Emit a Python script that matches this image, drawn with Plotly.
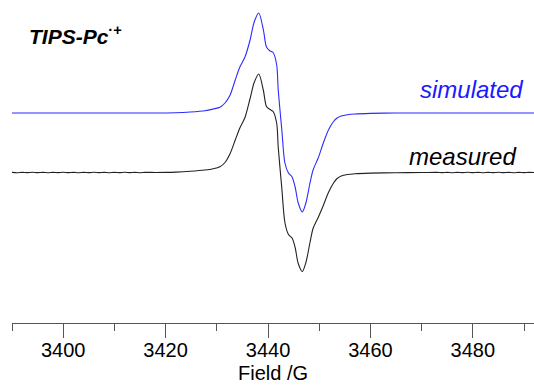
import plotly.graph_objects as go

# EPR first-derivative spectra of the TIPS-Pc radical cation
sim_field = [3390, 3400, 3410, 3417, 3422, 3424.8, 3427.7, 3429.3, 3430.6, 3431.6,
             3432.6, 3433.6, 3434.5, 3435.5, 3436.5, 3437.3, 3438.2, 3439.1, 3439.7,
             3440.4, 3441.0, 3441.7, 3442.0, 3442.7, 3443.3, 3444.0, 3444.7, 3445.3,
             3445.9, 3446.7, 3447.4, 3448.2, 3448.8, 3449.8, 3450.8, 3451.8, 3452.8,
             3453.5, 3454.3, 3455.5, 3457.0, 3460.0, 3465, 3470, 3480, 3492]
sim_signal = [0, 0, 0, 0, 0.003, 0.01, 0.023, 0.04, 0.057, 0.10,
              0.18, 0.33, 0.46, 0.56, 0.73, 0.91, 1.0, 0.83, 0.66,
              0.62, 0.605, 0.48, 0.23, -0.17, -0.50, -0.60, -0.64, -0.74,
              -0.90, -0.99, -0.90, -0.70, -0.57, -0.45, -0.30, -0.17, -0.085,
              -0.05, -0.03, -0.018, -0.01, -0.004, 0, 0, 0, 0]

meas_field = [3390, 3391, 3392, 3393, 3394, 3395, 3396, 3397, 3398, 3399,
              3400, 3401, 3402, 3403, 3404, 3405, 3406, 3407, 3408, 3409,
              3410, 3411, 3412, 3413, 3414, 3415, 3416, 3418, 3420, 3422,
              3424.8, 3427.7, 3429.3, 3430.6, 3431.6, 3432.6, 3433.6,
              3434.5, 3435.5, 3436.5, 3437.3, 3438.2, 3439.1, 3439.7, 3440.4,
              3441.0, 3441.7, 3442.0, 3442.7, 3443.3, 3444.0, 3444.7, 3445.3,
              3445.9, 3446.7, 3447.4, 3448.2, 3448.8, 3449.8, 3450.8, 3451.8,
              3452.8, 3453.5, 3454.3, 3455.5, 3457.0, 3460.0, 3465.0, 3470.0,
              3473.0, 3474.0, 3475.0, 3476.0, 3477.0, 3478.0, 3479.0, 3480.0,
              3481.0, 3482.0, 3483.0, 3484.0, 3485.0, 3486.0, 3487.0, 3488.0,
              3489.0, 3490.0, 3491.0, 3492.0]
meas_signal = [0.001, -0.002, 0.0015, -0.001, 0.002, -0.0015, 0.001, -0.002, 0.0015, -0.001,
               0.002, -0.0015, 0.0015, -0.002, 0.001, -0.0015, 0.002, -0.001, 0.0015, -0.002,
               0.001, -0.0015, 0.002, -0.001, 0.0015, -0.002, 0.001, 0.0005, 0.001, 0.004,
               0.012, 0.025, 0.038, 0.058, 0.10, 0.19, 0.325,
               0.445, 0.55, 0.74, 0.90, 0.985, 0.82, 0.66, 0.63,
               0.61, 0.49, 0.25, -0.16, -0.50, -0.62, -0.655, -0.75,
               -0.91, -0.99, -0.90, -0.70, -0.56, -0.45, -0.33, -0.20,
               -0.105, -0.06, -0.035, -0.02, -0.012, -0.006, -0.002, 0,
               0.0015, -0.0015, 0.001, -0.002, 0.0015, -0.001, 0.002, -0.0015,
               0.001, -0.002, 0.0015, -0.001, 0.002, -0.0015, 0.001, -0.002,
               0.0015, -0.001, 0.0015, 0.0]

sim_offset = 0.595  # vertical stacking of the simulated trace

field_ticks = [3400, 3420, 3440, 3460, 3480]
field_minor_ticks = [3390, 3410, 3430, 3450, 3470, 3490]

font_family = "Arial, Liberation Sans, sans-serif"

fig = go.Figure()
fig.add_trace(go.Scatter(
    x=sim_field, y=[v + sim_offset for v in sim_signal],
    mode="lines", line=dict(color="#2b2bff", width=1.1, shape="spline", smoothing=0.8),
    name="simulated", showlegend=False, hoverinfo="skip"))
fig.add_trace(go.Scatter(
    x=meas_field, y=meas_signal,
    mode="lines", line=dict(color="#222222", width=1.1, shape="spline", smoothing=0.8),
    name="measured", showlegend=False, hoverinfo="skip"))

fig.update_layout(
    width=534, height=385,
    margin=dict(l=12, r=0, t=0, b=62),
    paper_bgcolor="white", plot_bgcolor="white",
    font=dict(family=font_family, color="black"),
    xaxis=dict(
        range=[3390, 3491.95],
        tickvals=field_ticks,
        ticks="outside", ticklen=14, tickwidth=1, tickcolor="#555555",
        ticklabelstandoff=-5,
        showline=True, linecolor="#555555", linewidth=1,
        showgrid=False, zeroline=False,
        tickfont=dict(size=20, family=font_family, color="black"),
        minor=dict(tickvals=field_minor_ticks,
                   ticks="outside", ticklen=7, tickwidth=1, tickcolor="#555555",
                   showgrid=False),
    ),
    yaxis=dict(range=[-1.505, 1.725], visible=False, showgrid=False, zeroline=False),
    annotations=[
        dict(text="Field /G", xref="paper", yref="paper",
             x=0.5, y=-0.192, xanchor="center", yanchor="bottom", showarrow=False,
             borderpad=0,
             font=dict(size=20, family=font_family, color="black")),
        dict(text="<b><i>TIPS-Pc</i></b><sup><b>·+</b></sup>", xref="paper", yref="paper",
             x=0.028, y=0.893, xanchor="left", yanchor="middle", showarrow=False,
             font=dict(size=21, family=font_family, color="black")),
        dict(text="<i>simulated</i>", xref="paper", yref="paper",
             x=0.983, y=0.722, xanchor="right", yanchor="middle", showarrow=False,
             font=dict(size=24, family=font_family, color="#1a1aff")),
        dict(text="<i>measured</i>", xref="paper", yref="paper",
             x=0.970, y=0.515, xanchor="right", yanchor="middle", showarrow=False,
             font=dict(size=24, family=font_family, color="black")),
    ],
)

fig.write_html("out.html")
